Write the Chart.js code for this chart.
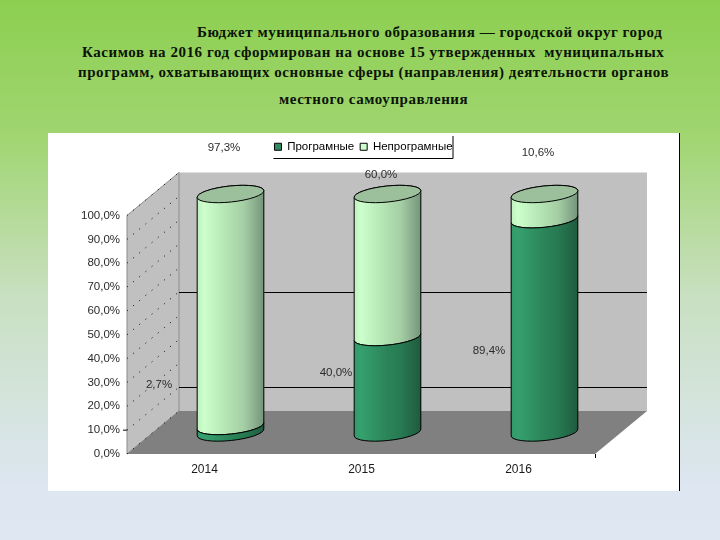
<!DOCTYPE html>
<html lang="ru">
<head>
<meta charset="utf-8">
<title>Бюджет</title>
<script src="https://cdn.jsdelivr.net/npm/chart.js@4"></script>
<style>
  html, body { margin: 0; padding: 0; }
  body {
    width: 720px; height: 540px; position: relative; overflow: hidden;
    background: linear-gradient(180deg, #8ccf50 0%, #a0d570 25%, #c9e0c2 55%, #dde6f1 90%, #dfe7f3 100%);
  }
  .line {
    position: absolute; white-space: pre; color: #0c1408;
    font: bold 15px "Liberation Serif", serif; letter-spacing: .55px;
  }
  #box { position: absolute; left: 48px; top: 133px; background: #fff; border-right: 1px solid #000; }
  canvas { display: block; }
</style>
</head>
<body>
<div class="line" style="left:197px;top:24px">Бюджет муниципального образования — городской округ город</div>
<div class="line" style="left:82px;top:44px">Касимов на 2016 год сформирован на основе 15 утвержденных  муниципальных</div>
<div class="line" style="left:78px;top:64px">программ, охватывающих основные сферы (направления) деятельности органов</div>
<div class="line" style="left:279px;top:91px">местного самоуправления</div>
<div id="box"><canvas id="grafico" width="631" height="358"></canvas></div>
<script>
// Данные диаграммы
const years = ['2014', '2015', '2016'];
const programmnye = [2.7, 40.0, 89.4];
const neprogrammnye = [97.3, 60.0, 10.6];
const seriesNames = ['Програмные', 'Непрограмные'];
const backLineValues = [10, 50];

// Depth of the fake 3D box and cylinder shape
const depthX = 52, depthY = -43;
const wallInsetLeft = 1, wallInsetRight = 2;
const barWidth = 67, ellipseRy = 8, ellipseTilt = -6 * Math.PI / 180;
const legendColors = ['#2e8b62', '#ccffcc'];
const rampLight = ['#bdf0bd', '#ccffcc', '#b0dfb0', '#a5cea5', '#74947a'];
const rampDark = ['#339a6a', '#36a06e', '#2b8459', '#277a52', '#1f5a3e'];
const topColor = '#9cc09c';

// Offsets of value labels from the middle of each segment
const labelOffsets = [
  [[-71.5, -44], [-51.5, -11.7], [-55.5, 25]],
  [[-6.5, -162], [-6.5, -91], [-6.5, -54]]
];

function formatPercent(v) {
  return v.toFixed(1).replace('.', ',') + '%';
}

// Horizontal shading of one cylinder
function cylinderFill(chart, index, ramp) {
  const cx = chart.scales.x.getPixelForValue(index);
  const g = chart.ctx.createLinearGradient(cx - barWidth / 2, 0, cx + barWidth / 2, 0);
  ramp.forEach((c, i) => g.addColorStop([0, 0.1, 0.5, 0.7, 1][i], c));
  return g;
}

// Outline of a segment: top edge is a lower arc, unless it is the top of the stack
function segmentPath(el, isTop) {
  const p = new Path2D();
  const rx = barWidth / 2;
  if (isTop) {
    p.ellipse(el.x, el.y, rx, ellipseRy, ellipseTilt, Math.PI, 2 * Math.PI);
  } else {
    p.ellipse(el.x, el.y, rx, ellipseRy, ellipseTilt, Math.PI, 0, true);
  }
  p.ellipse(el.x, el.base, rx, ellipseRy, ellipseTilt, 0, Math.PI);
  p.closePath();
  return p;
}

// Walls, floor and lines of the box
const walls = {
  id: 'walls',
  beforeDatasetsDraw(chart) {
    const { ctx, chartArea: a, scales } = chart;
    const left = a.left + wallInsetLeft, right = a.right - wallInsetRight;
    ctx.save();
    ctx.fillStyle = '#c0c0c0';
    ctx.strokeStyle = '#8c8c8c';
    ctx.lineWidth = 1;
    ctx.fillRect(left + depthX, a.top + depthY, right - left, a.bottom - a.top);
    ctx.beginPath();
    ctx.moveTo(left, a.bottom);
    ctx.lineTo(left, a.top);
    ctx.lineTo(left + depthX, a.top + depthY);
    ctx.lineTo(left + depthX, a.bottom + depthY);
    ctx.closePath();
    ctx.fill();
    ctx.stroke();
    ctx.fillStyle = '#808080';
    ctx.beginPath();
    ctx.moveTo(left, a.bottom);
    ctx.lineTo(left + depthX, a.bottom + depthY);
    ctx.lineTo(right + depthX, a.bottom + depthY);
    ctx.lineTo(right, a.bottom);
    ctx.closePath();
    ctx.fill();

    ctx.strokeStyle = '#000';
    ctx.beginPath();
    backLineValues.forEach(v => {
      const y = Math.round(scales.y.getPixelForValue(v) + depthY) + 0.5;
      ctx.moveTo(left + depthX, y);
      ctx.lineTo(right + depthX, y);
    });
    ctx.moveTo(left - 4, scales.y.getPixelForValue(10));
    ctx.lineTo(left, scales.y.getPixelForValue(10));
    ctx.moveTo(right + 0.5, a.bottom);
    ctx.lineTo(right + 0.5, a.bottom + 4);
    ctx.stroke();

    ctx.setLineDash([1, 7]);
    ctx.beginPath();
    scales.y.ticks.forEach(t => {
      const y = scales.y.getPixelForValue(t.value);
      ctx.moveTo(left, y);
      ctx.lineTo(left + depthX, y + depthY);
    });
    ctx.stroke();
    ctx.restore();
  }
};

// Turns the flat stacked bars into cylinders standing in the middle of the box
const cylinders = {
  id: 'cylinders',
  beforeDatasetDraw(chart, args) {
    const ctx = chart.ctx;
    const isTop = args.index === chart.data.datasets.length - 1;
    const clipPath = new Path2D();
    ctx.save();
    ctx.translate(depthX / 2, depthY / 2);
    args.meta.data.forEach(el => {
      const p = segmentPath(el, isTop);
      ctx.fillStyle = el.options.backgroundColor;
      ctx.fill(p);
      clipPath.addPath(p);
    });
    ctx.clip(clipPath);
  },
  afterDatasetDraw(chart, args) {
    const ctx = chart.ctx;
    const isTop = args.index === chart.data.datasets.length - 1;
    ctx.restore();
    ctx.save();
    ctx.translate(depthX / 2, depthY / 2);
    ctx.strokeStyle = '#000';
    ctx.lineWidth = 1;
    args.meta.data.forEach(el => {
      ctx.stroke(segmentPath(el, isTop));
      if (isTop) {
        ctx.beginPath();
        ctx.ellipse(el.x, el.y, barWidth / 2, ellipseRy, ellipseTilt, 0, 2 * Math.PI);
        ctx.fillStyle = topColor;
        ctx.fill();
        ctx.stroke();
      }
    });
    ctx.restore();
  },
  afterDatasetsDraw(chart) {
    const ctx = chart.ctx;
    ctx.save();
    ctx.fillStyle = '#2b2b2b';
    ctx.font = '11.5px "Liberation Sans", Arial, sans-serif';
    ctx.textAlign = 'center';
    ctx.textBaseline = 'middle';
    chart.data.datasets.forEach((ds, d) => {
      chart.getDatasetMeta(d).data.forEach((el, i) => {
        const off = labelOffsets[d][i];
        const x = el.x + depthX / 2 + off[0];
        const y = (el.y + el.base) / 2 + depthY / 2 + off[1];
        ctx.fillText(formatPercent(ds.data[i]), x, y);
      });
    });
    ctx.restore();
  }
};

// Legend sits above the box, centred on the whole canvas, with a partial frame
const legendFrame = {
  id: 'legendFrame',
  afterLayout(chart) {
    const lg = chart.legend;
    const h = lg.bottom - lg.top;
    lg.left = 0;
    lg.right = chart.width;
    lg.top = 2;
    lg.bottom = lg.top + h;
  },
  afterDraw(chart) {
    const ctx = chart.ctx;
    const mid = chart.width / 2;
    ctx.save();
    ctx.strokeStyle = '#000';
    ctx.lineWidth = 1;
    ctx.beginPath();
    ctx.moveTo(mid - 90, 25.5);
    ctx.lineTo(mid + 89.5, 25.5);
    ctx.lineTo(mid + 89.5, 3);
    ctx.stroke();
    ctx.restore();
  }
};

function inicializarGrafico() {
  const axisFont = { family: '"Liberation Sans", Arial, sans-serif', size: 11.5 };
  new Chart(document.getElementById('grafico').getContext('2d'), {
    type: 'bar',
    data: {
      labels: years,
      datasets: [
        {
          label: seriesNames[0],
          data: programmnye,
          barThickness: barWidth,
          clip: false,
          backgroundColor: c => c.type === 'data' ? cylinderFill(c.chart, c.dataIndex, rampDark) : legendColors[0]
        },
        {
          label: seriesNames[1],
          data: neprogrammnye,
          barThickness: barWidth,
          clip: false,
          backgroundColor: c => c.type === 'data' ? cylinderFill(c.chart, c.dataIndex, rampLight) : legendColors[1]
        }
      ]
    },
    options: {
      responsive: false,
      animation: false,
      events: [],
      layout: { padding: { top: 55, right: 82 } },
      plugins: {
        tooltip: { enabled: false },
        legend: {
          position: 'top',
          labels: {
            color: '#1a1a1a',
            font: { family: axisFont.family, size: 11.5 },
            boxWidth: 7,
            boxHeight: 7,
            padding: 6,
            generateLabels: chart => chart.data.datasets.map((d, i) => ({
              text: d.label, fillStyle: legendColors[i], strokeStyle: '#000', lineWidth: 1, datasetIndex: i
            }))
          }
        }
      },
      scales: {
        x: {
          stacked: true,
          grid: { display: false, drawTicks: false },
          border: { display: false },
          ticks: { color: '#1a1a1a', font: { family: axisFont.family, size: 12 }, padding: 8, maxRotation: 0 },
          afterFit: s => { s.height = 37; }
        },
        y: {
          stacked: true,
          min: 0,
          max: 100,
          grid: { display: false, drawTicks: false },
          border: { display: false },
          ticks: { color: '#2b2b2b', font: axisFont, stepSize: 10, padding: 6, callback: v => formatPercent(v) },
          afterFit: s => { s.width = 78; }
        }
      }
    },
    plugins: [walls, cylinders, legendFrame]
  });
}

window.onload = inicializarGrafico;
</script>
</body>
</html>
